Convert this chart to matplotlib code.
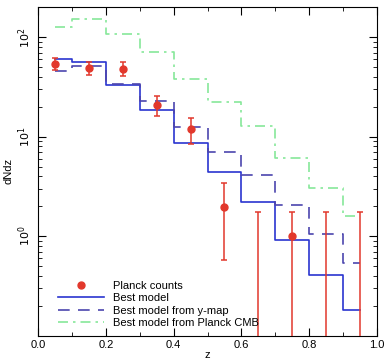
import numpy as np
import matplotlib
matplotlib.use('Agg')
import matplotlib.pyplot as plt
from matplotlib.lines import Line2D
from matplotlib.ticker import FixedLocator, FuncFormatter, LogLocator, NullFormatter, MultipleLocator

plt.rcParams['font.family'] = ['Liberation Sans', 'DejaVu Sans']

# redshift bin centres
z = np.array([0.05, 0.15, 0.25, 0.35, 0.45, 0.55, 0.65, 0.75, 0.85, 0.95])

# models
best_model = np.array([60, 57, 33.5, 18.8, 8.7, 4.4, 2.2, 0.91, 0.41, 0.18])
ymap_model = np.array([46, 51, 34, 22.8, 12.4, 7.0, 4.1, 2.05, 1.04, 0.54])
cmb_model = np.array([127, 154, 109, 72, 38.5, 22.4, 12.8, 6.1, 3.05, 1.59])

# Planck counts with error bar limits (0 = no detection)
counts = np.array([54.5, 49, 48.4, 21, 12, 1.98, 0, 1.0, 0, 0])
err_hi = np.array([62.5, 56, 56.9, 26, 15.6, 3.39, 1.76, 1.76, 1.76, 1.76])
err_lo = np.array([47.4, 42, 41.2, 16.3, 8.55, 0.58, 0.001, 0.001, 0.001, 0.001])

red = '#e2382c'

fig = plt.figure(figsize=(3.85, 3.6), dpi=100)
ax = fig.add_axes([0.099, 0.068, 0.880, 0.913])

l1, = ax.step(z, best_model, where='mid', color='#2a35d0', lw=1.2)
l2, = ax.step(z, ymap_model, where='mid', color='#4c45ae', lw=1.2, dashes=(7, 5))
l3, = ax.step(z, cmb_model, where='mid', color='#86e89a', lw=1.2, dashes=(6, 3, 1.5, 3))

det = counts > 0
ax.errorbar(z[det], counts[det], yerr=[counts[det] - err_lo[det], err_hi[det] - counts[det]],
            fmt='o', color=red, ms=5, elinewidth=1.1, capsize=2.5, capthick=1.1, zorder=5)
nd = ~det
ax.errorbar(z[nd], err_hi[nd], yerr=[err_hi[nd] - err_lo[nd], np.zeros(nd.sum())],
            fmt='none', ecolor=red, elinewidth=1.1, capsize=2.5, capthick=1.1, zorder=5)

ax.set_yscale('log')
ax.set_xlim(0, 1)
ax.set_ylim(0.1, 203)

ax.xaxis.set_major_locator(MultipleLocator(0.2))
ax.xaxis.set_minor_locator(MultipleLocator(0.1))
ax.yaxis.set_major_locator(FixedLocator([1, 10, 100]))
ax.yaxis.set_major_formatter(FuncFormatter(lambda v, p: r'$10^{%d}$' % round(np.log10(v))))
ax.yaxis.set_minor_locator(LogLocator(base=10, subs=np.arange(2, 10)))
ax.yaxis.set_minor_formatter(NullFormatter())
ax.xaxis.set_major_formatter(FuncFormatter(lambda v, p: '%.1f' % v))

ax.tick_params(which='both', direction='in', top=True, right=True, labelsize=8)
ax.tick_params(which='major', length=6, width=0.8)
ax.tick_params(which='minor', length=3, width=0.6)
for lab in ax.get_yticklabels():
    lab.set_rotation(90)
    lab.set_va('center')

ax.set_ylabel('dNdz', fontsize=8, labelpad=2)
ax.set_xlabel('z', fontsize=8, labelpad=0)

pt = Line2D([], [], ls='none', marker='o', color=red, ms=5)
ax.legend([pt, l1, l2, l3],
          ['Planck counts', 'Best model', 'Best model from y-map', 'Best model from Planck CMB'],
          loc='lower left', frameon=False, fontsize=8, handlelength=4.2,
          labelspacing=0.2, borderaxespad=0.3, bbox_to_anchor=(0.035, 0.0))

fig.savefig('out.png', dpi=100)
